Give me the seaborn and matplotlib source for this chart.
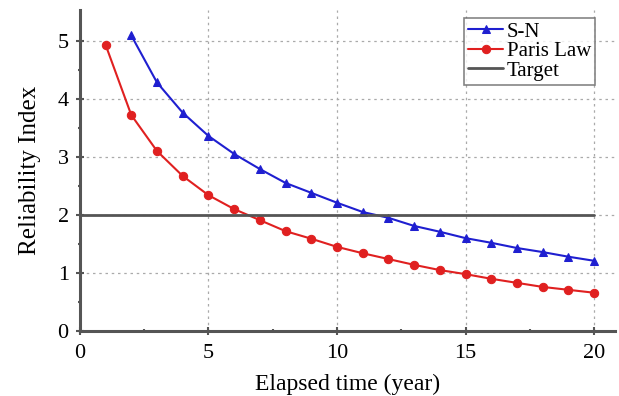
import matplotlib
matplotlib.use("Agg")
import matplotlib.pyplot as plt
import seaborn as sns
import pandas as pd

# values
sn_years = list(range(2, 21))
sn_beta = [5.09, 4.28, 3.76, 3.36, 3.05, 2.79, 2.55, 2.38, 2.21, 2.05,
           1.95, 1.81, 1.71, 1.60, 1.52, 1.43, 1.36, 1.28, 1.21]
paris_years = list(range(1, 21))
paris_beta = [4.93, 3.72, 3.10, 2.67, 2.34, 2.10, 1.91, 1.72, 1.59, 1.45,
              1.34, 1.24, 1.14, 1.05, 0.98, 0.90, 0.83, 0.76, 0.71, 0.66]
target_years = [0, 20]
target_beta = [2, 2]

sn = pd.DataFrame({"year": sn_years, "beta": sn_beta})
paris = pd.DataFrame({"year": paris_years, "beta": paris_beta})
target = pd.DataFrame({"year": target_years, "beta": target_beta})

sns.set_style("white")
plt.rcParams["font.family"] = ["Liberation Serif", "DejaVu Serif"]
plt.rcParams["text.color"] = "black"
plt.rcParams["axes.labelcolor"] = "black"

fig = plt.figure(figsize=(6.19, 3.96), dpi=100)
ax = fig.add_axes([0.129, 0.164, 0.864, 0.811])

sns.lineplot(data=sn, x="year", y="beta", ax=ax, color="#1f1fd0", lw=1.5,
             marker="^", markersize=6, markeredgecolor="#1f1fd0", label="S-N")
sns.lineplot(data=paris, x="year", y="beta", ax=ax, color="#e02020", lw=1.5,
             marker="o", markersize=6, markeredgecolor="#e02020", label="Paris Law")
sns.lineplot(data=target, x="year", y="beta", ax=ax, color="#555555", lw=2,
             label="Target")

ax.set_xlim(0, 20.8)
ax.set_ylim(0, 5.53)
ax.set_xticks([0, 5, 10, 15, 20])
ax.set_yticks([0, 1, 2, 3, 4, 5])
ax.set_xticks([2.5, 7.5, 12.5, 17.5], minor=True)
ax.set_yticks([0.5, 1.5, 2.5, 3.5, 4.5], minor=True)
ax.grid(True, which="major", linestyle=(0, (2, 3)), color="#aaaaaa", lw=0.9)

for s in ["top", "right"]:
    ax.spines[s].set_visible(False)
for s in ["left", "bottom"]:
    ax.spines[s].set_color("#555555")
    ax.spines[s].set_linewidth(2.2)

ax.tick_params(which="major", direction="inout", length=6, width=1.5,
               color="#555555", labelcolor="black", labelsize=16)
ax.tick_params(which="minor", direction="inout", length=3, width=1.5,
               color="#555555")
ax.tick_params(axis="x", bottom=True, which="both", pad=6)
ax.tick_params(axis="y", left=True, which="both", pad=5)

ax.set_xlabel("Elapsed time (year)", fontsize=17, labelpad=8)
ax.set_ylabel("Reliability Index", fontsize=18, labelpad=12)

leg = ax.legend(loc="upper right", bbox_to_anchor=(0.975, 0.995), fontsize=15,
                frameon=True, fancybox=False, borderpad=0.2, labelspacing=0.0,
                handlelength=1.7, handletextpad=0.15, borderaxespad=0.3)
leg.get_frame().set_edgecolor("#666666")
leg.get_frame().set_linewidth(1.2)

fig.savefig("out.png", dpi=100)
